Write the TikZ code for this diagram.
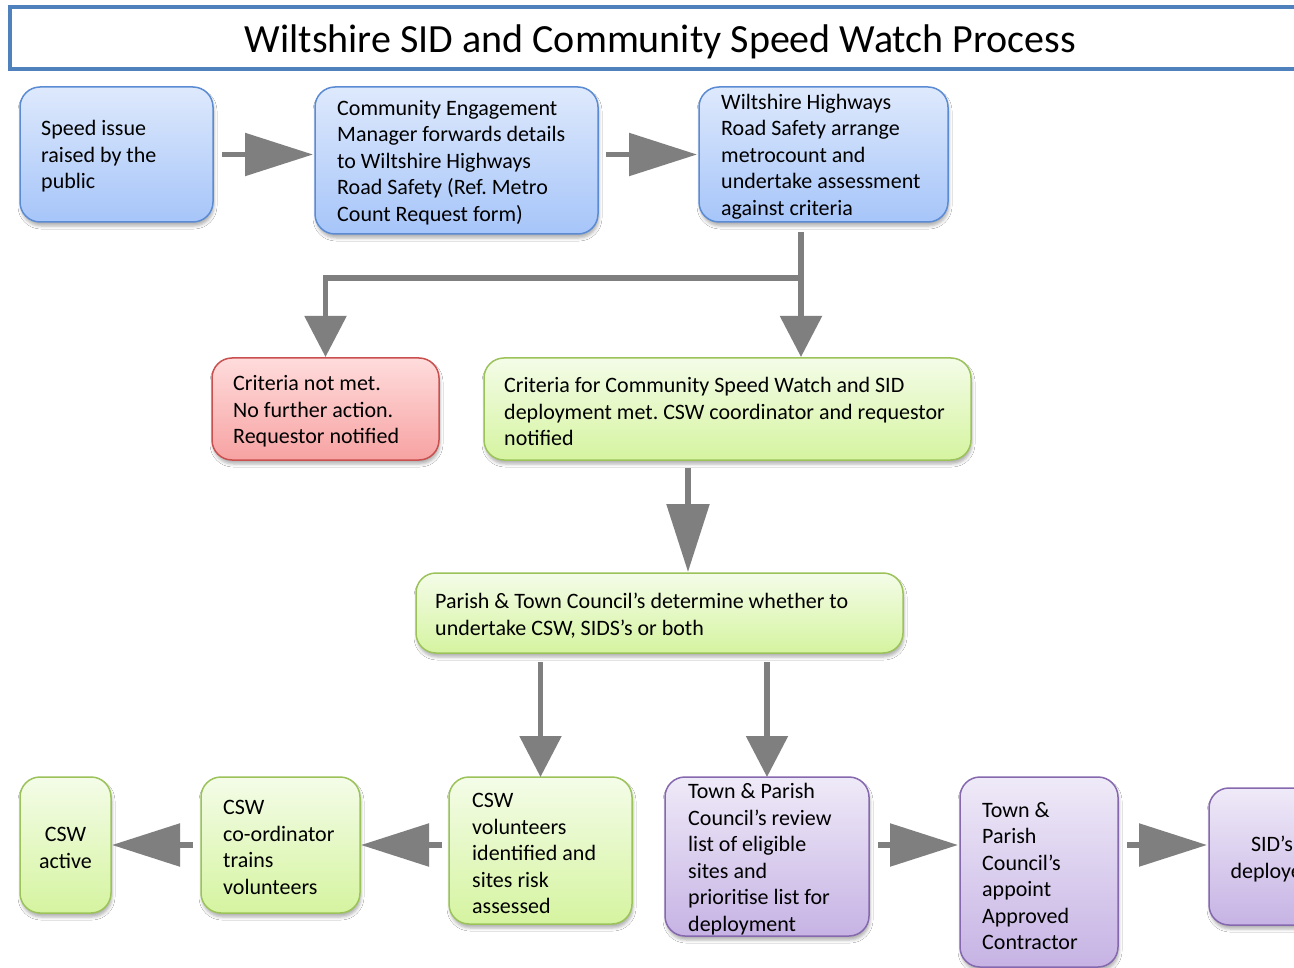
\documentclass[tikz,border=0pt]{standalone}
\usepackage{fontspec}
\setmainfont{Carlito}
\frenchspacing
\usetikzlibrary{arrows.meta,shadows.blur,calc}
\definecolor{titleblue}{HTML}{4F81BD}
\definecolor{bluedraw}{HTML}{5B8BD3}
\definecolor{bluetop}{HTML}{DEE9FC}
\definecolor{bluebot}{HTML}{A6C5F9}
\definecolor{reddraw}{HTML}{C9504F}
\definecolor{redtop}{HTML}{FFDCDC}
\definecolor{redbot}{HTML}{F7A2A2}
\definecolor{greendraw}{HTML}{9BC35A}
\definecolor{greentop}{HTML}{F4FCE8}
\definecolor{greenbot}{HTML}{D5F4A0}
\definecolor{purpledraw}{HTML}{8568AE}
\definecolor{purpletop}{HTML}{EFEAF8}
\definecolor{purplebot}{HTML}{C6B3E4}
\definecolor{arrowgray}{HTML}{7F7F7F}
\begin{document}
\begin{tikzpicture}[x=1pt,y=-1pt,
  box/.style={draw, rounded corners=20pt, line width=1.5pt, outer sep=0pt, inner sep=0pt,
    blur shadow={shadow xshift=1pt, shadow yshift=-4pt, shadow blur radius=3pt, shadow opacity=30}},
  bluebox/.style={box, draw=bluedraw, top color=bluetop, bottom color=bluebot},
  redbox/.style={box, draw=reddraw, top color=redtop, bottom color=redbot},
  greenbox/.style={box, draw=greendraw, top color=greentop, bottom color=greenbot},
  purplebox/.style={box, draw=purpledraw, top color=purpletop, bottom color=purplebot},
  tx/.style={font=\fontsize{22}{26.5}\selectfont\frenchspacing, align=left, inner sep=0pt, anchor=west, text=black},
  txc/.style={font=\fontsize{22}{26.5}\selectfont\frenchspacing, align=center, inner sep=0pt, anchor=center, text=black},
  harrow/.style={draw=arrowgray, line width=5.5pt, -{Triangle[length=68pt,width=42pt]}},
  varrow/.style={draw=arrowgray, line width=5.5pt, -{Triangle[length=41pt,width=41pt]}}
]
\useasboundingbox (0,0) rectangle (1294,968);
\clip (0,0) rectangle (1294,968);
\fill[white] (0,0) rectangle (1294,968);

% title
\node[draw=titleblue, line width=4pt, outer sep=0pt, inner sep=0pt, minimum width=1302pt, minimum height=62.5pt, anchor=north west] (title) at (10,7) {};
\node[font=\fontsize{40}{48}\selectfont, anchor=base, inner sep=0pt] (titletext) at (660.5,53) {Wiltshire SID and Community Speed Watch Process};

% boxes
\node[bluebox, minimum width=193pt, minimum height=135pt] (b1) at (116.5,154.5) {};
\node[bluebox, minimum width=283pt, minimum height=147pt] (b2) at (456.5,160.5) {};
\node[bluebox, minimum width=249pt, minimum height=135pt] (b3) at (823.5,154.5) {};
\node[redbox, minimum width=227pt, minimum height=102pt] (b4) at (325.5,409) {};
\node[greenbox, minimum width=487pt, minimum height=102pt] (b5) at (727.5,409) {};
\node[greenbox, minimum width=487pt, minimum height=80pt] (b6) at (659.5,613) {};
\node[greenbox, minimum width=91pt, minimum height=136pt] (b7) at (65.5,845) {};
\node[greenbox, minimum width=159pt, minimum height=136pt] (b8) at (280.5,845) {};
\node[greenbox, minimum width=183pt, minimum height=147pt] (b9) at (540.5,850.5) {};
\node[purplebox, minimum width=204pt, minimum height=159pt] (b10) at (767,856.5) {};
\node[purplebox, minimum width=158pt, minimum height=190pt] (b11) at (1039,872) {};
\node[purplebox, minimum width=126pt, minimum height=137pt] (b12) at (1272,856.5) {};

% texts
\node[tx] (t1) at (41,156.5) {Speed issue\\raised by the\\public};
\node[tx] (t2) at (337,162.5) {Community Engagement\\Manager forwards details\\to Wiltshire Highways\\Road Safety (Ref. Metro\\Count Request form)};
\node[tx] (t3) at (721,156.5) {Wiltshire Highways\\Road Safety arrange\\metrocount and\\undertake assessment\\against criteria};
\node[tx] (t4) at (233,411.5) {Criteria not met.\\No further action.\\Requestor notified};
\node[tx] (t5) at (504,411.5) {Criteria for Community Speed Watch and SID\\deployment met. CSW coordinator and requestor\\notified};
\node[tx] (t6) at (435,615.5) {Parish \& Town Council’s determine whether to\\undertake CSW, SIDS’s or both};
\node[txc] (t7) at (65.5,848) {CSW\\active};
\node[tx] (t8) at (223,847.5) {CSW\\co-ordinator\\trains\\volunteers};
\node[tx] (t9) at (472,853.5) {CSW\\volunteers\\identified and\\sites risk\\assessed};
\node[tx] (t10) at (688,859) {Town \& Parish\\Council’s review\\list of eligible\\sites and\\prioritise list for\\deployment};
\node[tx] (t11) at (982,876) {Town \&\\Parish\\Council’s\\appoint\\Approved\\Contractor};
\node[txc] (t12) at (1272,859) {SID’s\\deployed};

% connectors
\coordinate (j) at (801,278);
\coordinate (k) at (688,500);
\coordinate (m) at (900,845);
\draw[harrow, shorten <=9pt, shorten >=2pt] (b1.east) -- (b1.east -| b2.west);
\draw[harrow, shorten <=8pt, shorten >=2pt] (b2.east |- b3.west) -- (b3.west);
\draw[varrow, shorten <=10pt, shorten >=1pt] (b3.south -| j) -- (b5.north -| j);
\draw[varrow, shorten >=1pt] (j) -| (b4.north);
\draw[harrow, shorten <=8pt, shorten >=1pt] (b5.south -| k) -- (b6.north -| k);
\draw[varrow, shorten <=9pt] (b6.south -| b9.north) -- (b9.north);
\draw[varrow, shorten <=9pt] (b6.south -| b10.north) -- (b10.north);
\draw[harrow, shorten <=7pt, shorten >=1pt] (b9.west |- b8.east) -- (b8.east);
\draw[harrow, shorten <=8pt, shorten >=1pt] (b8.west) -- (b7.east);
\draw[harrow, shorten <=9pt, shorten >=2pt] (b10.east |- m) -- (b11.west |- m);
\draw[harrow, shorten <=9pt, shorten >=2pt] (b11.east |- m) -- (b12.west |- m);
\end{tikzpicture}
\end{document}
